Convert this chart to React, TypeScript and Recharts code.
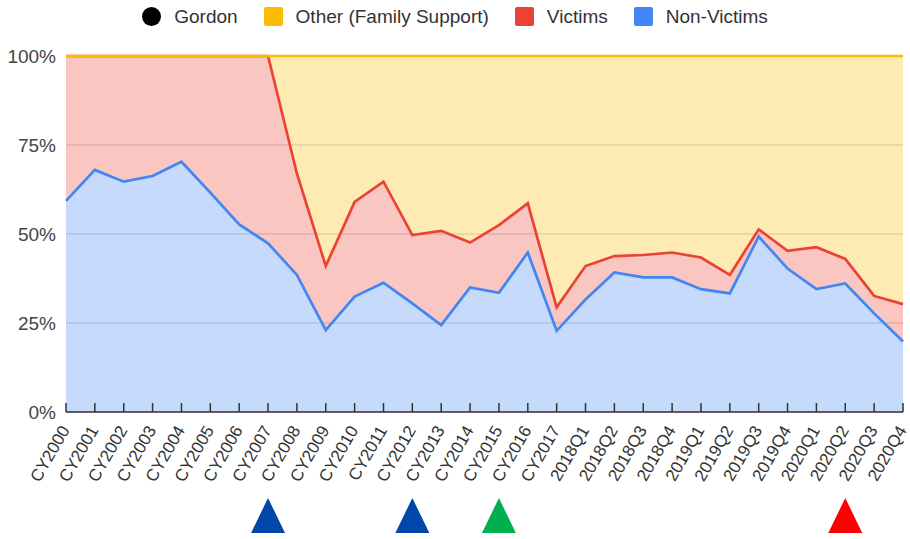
import { AreaChart, Area, XAxis, YAxis, CartesianGrid } from "recharts";

// categories along the x axis
const periods = [
  "CY2000", "CY2001", "CY2002", "CY2003", "CY2004", "CY2005", "CY2006", "CY2007",
  "CY2008", "CY2009", "CY2010", "CY2011", "CY2012", "CY2013", "CY2014", "CY2015",
  "CY2016", "CY2017", "2018Q1", "2018Q2", "2018Q3", "2018Q4", "2019Q1", "2019Q2",
  "2019Q3", "2019Q4", "2020Q1", "2020Q2", "2020Q3", "2020Q4",
];

// share of each group, in percent
const nonVictims = [
  59.3, 68, 64.7, 66.3, 70.3, 61.6, 52.7, 47.4, 38.5, 23, 32.4, 36.3, 30.5, 24.4, 35,
  33.5, 44.8, 22.8, 31.6, 39.2, 37.8, 37.8, 34.5, 33.3, 49.3, 40.3, 34.5, 36.1, 27.7, 19.8,
];
const victims = [
  40.7, 32, 35.3, 33.7, 29.7, 38.4, 47.3, 52.6, 28.5, 18, 26.6, 28.4, 19.2, 26.5, 12.6,
  19, 13.8, 6.6, 9.4, 4.6, 6.3, 7, 8.9, 5.2, 2, 5, 11.8, 6.9, 4.9, 10.5,
];
const other = [
  0, 0, 0, 0, 0, 0, 0, 0, 33, 59, 41, 35.3, 50.3, 49.1, 52.4,
  47.5, 41.4, 70.6, 59, 56.2, 55.9, 55.2, 56.6, 61.5, 48.7, 54.7, 53.7, 57, 67.4, 69.7,
];

const yTicks = [0, 25, 50, 75, 100];

// event markers shown under the axis
const markers: Record<string, string> = {
  CY2007: "#0047ab",
  CY2012: "#0047ab",
  CY2015: "#00b050",
  "2020Q2": "#ff0000",
};

const legendItems = [
  { name: "Gordon", color: "#000000", round: true },
  { name: "Other (Family Support)", color: "#fbbc04", round: false },
  { name: "Victims", color: "#ea4335", round: false },
  { name: "Non-Victims", color: "#4285f4", round: false },
];

const series = [
  { key: "nonVictims", color: "#4285f4" },
  { key: "victims", color: "#ea4335" },
  { key: "other", color: "#fbbc04" },
];

const data = periods.map((p, i) => ({
  period: p,
  nonVictims: nonVictims[i],
  victims: victims[i],
  other: other[i],
}));

const FONT = "'Liberation Sans', Arial, sans-serif";

const PeriodTick = (props: any) => {
  const { x, y, payload } = props;
  const ax = x - 1;
  const ay = y + 15;
  const mark = markers[payload.value];
  return (
    <g>
      <line x1={x} x2={x} y1={y - 9} y2={y} stroke="#333" strokeWidth={1.5} />
      <text
        x={ax}
        y={ay}
        dy="0.35em"
        textAnchor="end"
        transform={`rotate(-60 ${ax} ${ay})`}
        fill="#333"
        fontSize={17}
        fontFamily={FONT}
      >
        {payload.value}
      </text>
      {mark && (
        <polygon
          points={`${x},${y + 86} ${x - 17},${y + 121} ${x + 17},${y + 121}`}
          fill={mark}
        />
      )}
    </g>
  );
};

const Legend = () => (
  <div
    style={{
      position: "absolute",
      top: 7,
      left: 0,
      width: 910,
      display: "flex",
      justifyContent: "center",
      gap: 26,
      fontFamily: FONT,
      fontSize: 19,
      color: "#333",
      lineHeight: "19px",
    }}
  >
    {legendItems.map((item) => (
      <div key={item.name} style={{ display: "flex", alignItems: "center", gap: 13 }}>
        <span
          style={{
            display: "inline-block",
            width: 19,
            height: 19,
            background: item.color,
            borderRadius: item.round ? "50%" : 2,
          }}
        />
        <span>{item.name}</span>
      </div>
    ))}
  </div>
);

export default function App() {
  return (
    <div style={{ position: "absolute", left: 0, top: 0, width: 910, height: 539, background: "#fff" }}>
      <Legend />
      <AreaChart
        width={910}
        height={539}
        data={data}
        margin={{ top: 56, right: 7, left: 0, bottom: 0 }}
      >
        <CartesianGrid vertical={false} stroke="#cccccc" strokeWidth={1} />
        <YAxis
          domain={[0, 100]}
          ticks={yTicks}
          width={66}
          axisLine={false}
          tickLine={false}
          tickSize={0}
          tickMargin={10}
          tickFormatter={(v: number) => `${v}%`}
          tick={{ fill: "#444", fontSize: 19, fontFamily: FONT }}
        />
        <XAxis
          dataKey="period"
          height={127}
          interval={0}
          tickSize={0}
          tickMargin={0}
          tickLine={false}
          axisLine={{ stroke: "#333", strokeWidth: 1.5 }}
          tick={<PeriodTick />}
        />
        {/* fills */}
        {series.map((s) => (
          <Area
            key={`fill-${s.key}`}
            type="linear"
            dataKey={s.key}
            stackId="fill"
            stroke="none"
            fill={s.color}
            fillOpacity={0.3}
            isAnimationActive={false}
          />
        ))}
        {/* lines on top of every fill */}
        {series.map((s) => (
          <Area
            key={`line-${s.key}`}
            type="linear"
            dataKey={s.key}
            stackId="line"
            stroke={s.color}
            strokeWidth={2.7}
            fill="none"
            isAnimationActive={false}
          />
        ))}
      </AreaChart>
    </div>
  );
}
